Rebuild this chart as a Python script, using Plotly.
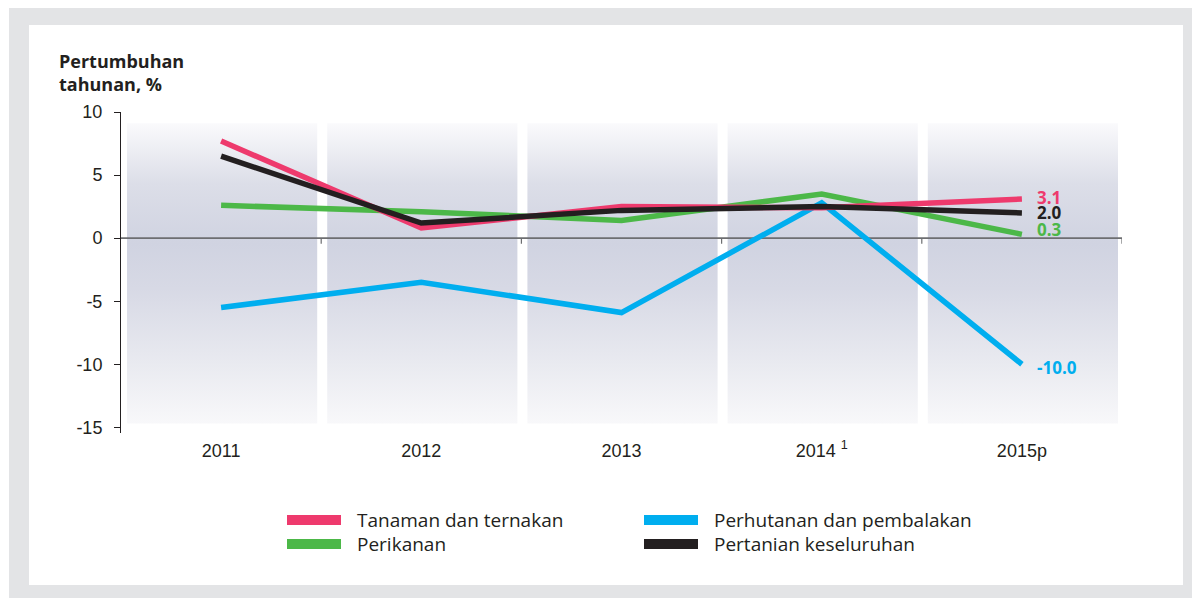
import plotly.graph_objects as go

# ---------------- data ----------------
categories = ["2011", "2012", "2013", "2014 <sup>1</sup>", "2015p"]
tanaman = [7.7, 0.8, 2.5, 2.4, 3.1]        # Tanaman dan ternakan
perhutanan = [-5.5, -3.5, -5.9, 2.8, -10.0]  # Perhutanan dan pembalakan
perikanan = [2.6, 2.1, 1.4, 3.5, 0.3]      # Perikanan
pertanian = [6.5, 1.2, 2.2, 2.5, 2.0]      # Pertanian keseluruhan
series_names = ["Tanaman dan ternakan", "Perhutanan dan pembalakan",
                "Perikanan", "Pertanian keseluruhan"]
y_ticks = [10, 5, 0, -5, -10, -15]

# ---------------- styles ----------------
C_PINK = "#ee3a6d"
C_BLUE = "#00aeef"
C_GREEN = "#4cb848"
C_BLACK = "#231f20"
series = {
    "Tanaman dan ternakan": (tanaman, C_PINK),
    "Perhutanan dan pembalakan": (perhutanan, C_BLUE),
    "Perikanan": (perikanan, C_GREEN),
    "Pertanian keseluruhan": (pertanian, C_BLACK),
}
draw_order = ["Perikanan", "Perhutanan dan pembalakan",
              "Tanaman dan ternakan", "Pertanian keseluruhan"]
label_yshift = {"Tanaman dan ternakan": 2, "Perhutanan dan pembalakan": -3,
                "Perikanan": 5, "Pertanian keseluruhan": 0}

# page has an 8px body margin: figure is drawn from page pixel (8, 8)
OFF = 8
W, H = 1200 - OFF, 598 - OFF
ML, MR, MT, MB = 121 - OFF, 78, 112 - OFF, 165
PW, PH = W - ML - MR, H - MT - MB
Y_MIN, Y_MAX = -15.45, 10


def px2x(px):
    """page pixel x -> paper fraction"""
    return (px - OFF - ML) / PW


def px2y(py):
    """page pixel y -> paper fraction"""
    return (H - MB - (py - OFF)) / PH


xs = list(range(len(categories)))
fig = go.Figure()

# background gradient columns
col_top, col_bot = 9.1, -14.7
for i in xs:
    x0, x1 = i - 0.47, i + 0.48
    fig.add_trace(go.Scatter(
        x=[x0, x1, x1, x0, x0], y=[col_bot, col_bot, col_top, col_top, col_bot],
        mode="lines", line=dict(width=0), fill="toself",
        fillgradient=dict(type="vertical", colorscale=[
            [0.0, "#f8f8fa"], [0.2, "#e9eaf0"], [0.45, "#d7d9e5"],
            [0.6, "#d0d3e1"], [0.8, "#dcdee8"], [1.0, "#fafafc"]]),
        showlegend=False, hoverinfo="skip"))

# zero axis line with category-boundary ticks
n = len(categories)
fig.add_trace(go.Scatter(x=[-0.5, n - 0.5], y=[0, 0], mode="lines",
                         line=dict(color="#6d6e71", width=1.6),
                         showlegend=False, hoverinfo="skip"))
tx, ty = [], []
for i in range(n):
    tx += [i + 0.5, i + 0.5, None]
    ty += [0, -0.45, None]
fig.add_trace(go.Scatter(x=tx, y=ty, mode="lines",
                         line=dict(color="#6d6e71", width=1.2),
                         showlegend=False, hoverinfo="skip"))

# data lines
for name in draw_order:
    vals, col = series[name]
    fig.add_trace(go.Scatter(x=xs, y=vals, mode="lines", name=name,
                             line=dict(color=col, width=5.5),
                             showlegend=False))
    fig.add_annotation(x=xs[-1], y=vals[-1], text=f"<b>{vals[-1]:.1f}</b>",
                       showarrow=False, xanchor="left", xshift=13,
                       yshift=label_yshift[name],
                       font=dict(family="Open Sans", size=17, color=col))

shapes = []
# outer frame
shapes.append(dict(type="rect", xref="paper", yref="paper",
                   x0=px2x(9), x1=px2x(1210), y0=px2y(7), y1=px2y(610),
                   fillcolor="#e3e4e6", line=dict(width=0), layer="below"))
shapes.append(dict(type="rect", xref="paper", yref="paper",
                   x0=px2x(29), x1=px2x(1183), y0=px2y(25), y1=px2y(585),
                   fillcolor="#ffffff", line=dict(width=0), layer="below"))

# legend (custom, 2 columns)
leg_pos = {"Tanaman dan ternakan": (287, 520),
           "Perhutanan dan pembalakan": (644, 520),
           "Perikanan": (287, 544),
           "Pertanian keseluruhan": (644, 544)}
for name in series_names:
    lx, ly = leg_pos[name]
    shapes.append(dict(type="rect", xref="paper", yref="paper",
                       x0=px2x(lx), x1=px2x(lx + 54), y0=px2y(ly - 5), y1=px2y(ly + 5),
                       fillcolor=series[name][1], line=dict(width=0)))
    fig.add_annotation(xref="paper", yref="paper", x=px2x(lx + 68), y=px2y(ly),
                       text=name, showarrow=False, xanchor="left", yanchor="middle",
                       font=dict(family="Open Sans", size=19, color="#231f20"))

# y axis title
fig.add_annotation(xref="paper", yref="paper", x=px2x(57), y=px2y(47),
                   text="<b>Pertumbuhan<br>tahunan, %</b>", showarrow=False,
                   xanchor="left", yanchor="top", align="left",
                   font=dict(family="Open Sans", size=18, color="#231f20"))

fig.update_layout(
    width=W, height=H,
    margin=dict(l=ML, r=MR, t=MT, b=MB, pad=0),
    paper_bgcolor="#ffffff", plot_bgcolor="rgba(0,0,0,0)",
    shapes=shapes,
    xaxis=dict(range=[-0.5, n - 0.5], tickvals=xs, ticktext=categories,
               showline=False, showgrid=False, zeroline=False, ticks="",
               ticklabelstandoff=5,
               tickfont=dict(family="Liberation Sans", size=18, color="#231f20")),
    yaxis=dict(range=[Y_MIN, Y_MAX], tickvals=y_ticks,
               ticktext=[str(v) for v in y_ticks],
               showline=True, linecolor="#231f20", linewidth=1,
               ticks="outside", ticklen=6, tickcolor="#231f20", tickwidth=1,
               showgrid=False, zeroline=False, ticklabelstandoff=8,
               tickfont=dict(family="Liberation Sans", size=18, color="#231f20")),
    showlegend=False,
)

fig.write_html("out.html")
